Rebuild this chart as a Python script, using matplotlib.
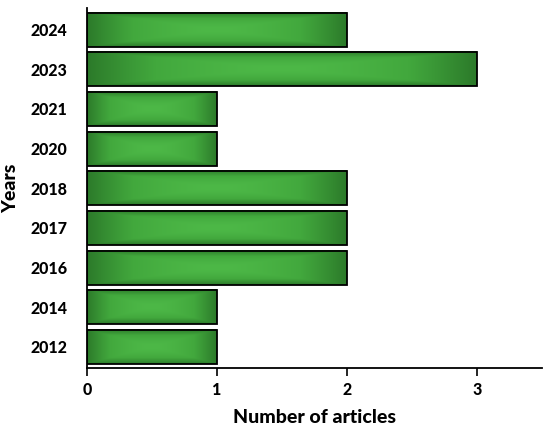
import matplotlib.pyplot as plt
import numpy as np
from matplotlib.colors import LinearSegmentedColormap

years = ['2012', '2014', '2016', '2017', '2018', '2020', '2021', '2023', '2024']
articles = [1, 1, 2, 2, 2, 1, 1, 3, 2]

plt.rcParams['font.family'] = ['Lato', 'DejaVu Sans']

fig = plt.figure(figsize=(5.5, 4.37), dpi=100)
ax = fig.add_axes([0.158, 0.158, 0.827, 0.824])

green = LinearSegmentedColormap.from_list('bar_green', ['#4db847', '#42a83d', '#2c7a2a'])

bars = ax.barh(years, articles, height=0.86, facecolor='none',
               edgecolor='black', linewidth=1.3, zorder=3)

# path-style gradient: lighter centre, darker towards the edges
u = np.linspace(-1, 1, 200)
v = np.linspace(-1, 1, 60)
uu, vv = np.meshgrid(u, v)
shade = np.maximum(np.abs(uu), np.abs(vv)) ** 1.6

for bar in bars:
    x0, y0 = bar.get_x(), bar.get_y()
    w, h = bar.get_width(), bar.get_height()
    ax.imshow(shade, cmap=green, aspect='auto', interpolation='bilinear',
              extent=(x0, x0 + w, y0, y0 + h), origin='lower', zorder=2)

ax.set_xlim(0, 3.5)
ax.set_ylim(-0.53, len(years) - 0.45)
ax.set_xticks([0, 1, 2, 3])

for side in ('top', 'right'):
    ax.spines[side].set_visible(False)
ax.spines['left'].set_linewidth(1.3)
ax.spines['bottom'].set_linewidth(1.3)
ax.tick_params(axis='x', length=6, width=1.2, labelsize=11.5, pad=4)
ax.tick_params(axis='y', length=0, labelsize=11.5, pad=14)
for label in ax.get_xticklabels() + ax.get_yticklabels():
    label.set_fontweight(900)

ax.set_xlabel('Number of articles', fontsize=14, fontweight=900, labelpad=8)
ax.set_ylabel('Years', fontsize=14, fontweight=900, labelpad=8)

fig.savefig('out.png', dpi=100)
